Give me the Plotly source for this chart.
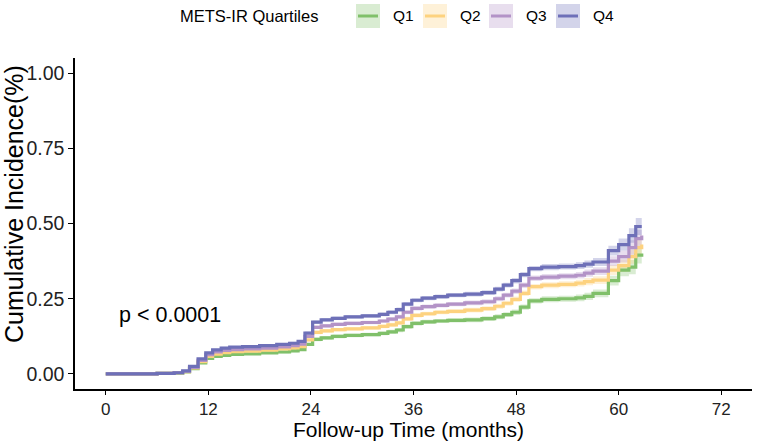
import plotly.graph_objects as go

# ---- data ----
months = [0, 6, 8, 9, 9.8, 10.8, 11.7, 12.5, 13.5, 14.5, 16, 18, 20, 21.5, 22.5, 23.3, 24.2, 25.2,
          26.5, 28, 30, 32, 33, 34, 34.8, 35.8, 37, 38.5, 40, 42, 44, 45.5, 46.5, 47.5, 48.5, 49.5,
          51, 53, 55, 56, 57, 58.8, 60, 61.2, 62, 62.7]

q1 = [0, 0.002, 0.003, 0.007, 0.018, 0.037, 0.052, 0.058, 0.062, 0.065, 0.067, 0.07, 0.073, 0.077,
      0.081, 0.098, 0.115, 0.12, 0.125, 0.128, 0.131, 0.135, 0.14, 0.146, 0.157, 0.168, 0.173, 0.176,
      0.178, 0.18, 0.184, 0.19, 0.197, 0.205, 0.222, 0.243, 0.248, 0.25, 0.253, 0.258, 0.268, 0.31,
      0.345, 0.355, 0.395, 0.40]
q2 = [0, 0.002, 0.004, 0.008, 0.02, 0.041, 0.058, 0.066, 0.071, 0.074, 0.076, 0.079, 0.083, 0.087,
      0.091, 0.113, 0.138, 0.143, 0.147, 0.15, 0.153, 0.158, 0.163, 0.17, 0.183, 0.195, 0.2, 0.205,
      0.208, 0.212, 0.217, 0.225, 0.235, 0.248, 0.268, 0.29, 0.295, 0.298, 0.302, 0.307, 0.312, 0.345,
      0.36, 0.39, 0.42, 0.43]
q3 = [0, 0.002, 0.004, 0.009, 0.022, 0.045, 0.064, 0.073, 0.078, 0.081, 0.083, 0.086, 0.09, 0.094,
      0.099, 0.125, 0.155, 0.16, 0.165, 0.168, 0.171, 0.176, 0.182, 0.19, 0.205, 0.218, 0.224, 0.228,
      0.232, 0.236, 0.24, 0.25, 0.262, 0.275, 0.295, 0.318, 0.322, 0.325, 0.328, 0.335, 0.342, 0.375,
      0.39, 0.42, 0.45, 0.46]
q4 = [0, 0.002, 0.004, 0.01, 0.025, 0.05, 0.07, 0.08, 0.086, 0.089, 0.091, 0.094, 0.098, 0.102,
      0.108, 0.136, 0.172, 0.18, 0.185, 0.19, 0.193, 0.198, 0.205, 0.214, 0.232, 0.245, 0.252, 0.257,
      0.262, 0.265, 0.27, 0.282, 0.295, 0.31, 0.33, 0.35, 0.355, 0.357, 0.36, 0.365, 0.372, 0.41,
      0.43, 0.46, 0.49, 0.49]
# half-width of the 95% CI band (shared shape, grows with time)
ci_half = [0, 0, 0, 0.001, 0.002, 0.003, 0.003, 0.004, 0.004, 0.004, 0.004, 0.004, 0.005, 0.005,
           0.005, 0.005, 0.006, 0.006, 0.006, 0.006, 0.006, 0.006, 0.007, 0.007, 0.007, 0.007, 0.007,
           0.007, 0.007, 0.008, 0.008, 0.008, 0.008, 0.009, 0.009, 0.009, 0.01, 0.01, 0.011, 0.012,
           0.013, 0.016, 0.02, 0.024, 0.028, 0.03]

groups = ["Q1", "Q2", "Q3", "Q4"]
series = [q1, q2, q3, q4]
colors = ["#80C06A", "#FDD27F", "#B393C7", "#6E70B8"]
fills = ["rgba(128,192,106,0.3)", "rgba(253,210,127,0.3)", "rgba(179,147,199,0.3)", "rgba(110,112,184,0.3)"]
legend_title = "METS-IR Quartiles"
x_ticks = [0, 12, 24, 36, 48, 60, 72]
y_ticks = [0, 0.25, 0.5, 0.75, 1.0]
y_ticklabels = ["0.00", "0.25", "0.50", "0.75", "1.00"]
x_title = "Follow-up Time (months)"
y_title = "Cumulative Incidence(%)"
p_text = "p < 0.0001"

FONT = "Liberation Sans, Arial, sans-serif"

fig = go.Figure()
for name, vals, col, fc in zip(groups, series, colors, fills):
    lo = [max(v - h, 0) for v, h in zip(vals, ci_half)]
    hi = [v + h for v, h in zip(vals, ci_half)]
    fig.add_trace(go.Scatter(x=months, y=lo, mode="lines", line=dict(width=0, shape="hv"),
                             showlegend=False, hoverinfo="skip"))
    fig.add_trace(go.Scatter(x=months, y=hi, mode="lines", line=dict(width=0, shape="hv"),
                             fill="tonexty", fillcolor=fc, showlegend=False, hoverinfo="skip"))
for name, vals, col in zip(groups, series, colors):
    fig.add_trace(go.Scatter(x=months, y=vals, mode="lines", name=name,
                             line=dict(color=col, width=3.2, shape="hv"), showlegend=False))

# plot area in pixels: x 75..752, y 58..389
L, R, T, B = 75, 752, 58, 389
W, H = R - L, B - T

def px(xp):
    return (xp - L) / W

def py(yp):
    return (B - yp) / H

annotations = [
    dict(x=1.3, y=0.196, xref="x", yref="y", text=p_text, showarrow=False, xanchor="left",
         yanchor="middle", font=dict(size=21.5, color="black", family=FONT)),
    dict(x=px(320), y=py(16), xref="paper", yref="paper", text=legend_title, showarrow=False,
         xanchor="right", yanchor="middle", font=dict(size=16.5, color="black", family=FONT)),
    dict(x=px(408), y=py(429), xref="paper", yref="paper", text=x_title, showarrow=False,
         xanchor="center", yanchor="middle", font=dict(size=21, color="black", family=FONT)),
    dict(x=px(14), y=py(204), xref="paper", yref="paper", text=y_title, showarrow=False,
         xanchor="center", yanchor="middle", textangle=-90,
         font=dict(size=25, color="black", family=FONT)),
]
shapes = []
box_left = [356, 423, 489, 556]
for name, col, fc, bl in zip(groups, colors, fills, box_left):
    shapes.append(dict(type="rect", xref="paper", yref="paper", x0=px(bl), x1=px(bl + 24),
                       y0=py(28), y1=py(4), fillcolor=fc, line=dict(width=0), layer="above"))
    shapes.append(dict(type="line", xref="paper", yref="paper", x0=px(bl + 2), x1=px(bl + 22),
                       y0=py(16), y1=py(16), line=dict(color=col, width=3), layer="above"))
    annotations.append(dict(x=px(bl + 35), y=py(16), xref="paper", yref="paper", text=name,
                            showarrow=False, xanchor="left", yanchor="middle",
                            font=dict(size=15.5, color="black", family=FONT)))

fig.update_layout(
    width=757, height=444,
    margin=dict(l=L, r=757 - R, t=T, b=444 - B),
    paper_bgcolor="white", plot_bgcolor="white",
    font=dict(family=FONT, color="black"),
    annotations=annotations, shapes=shapes,
    xaxis=dict(range=[-3.6, 75.6], tickvals=x_ticks, ticks="outside", ticklen=4, tickwidth=1.2,
               tickcolor="black", showline=True, linecolor="black", linewidth=1.5, showgrid=False,
               zeroline=False, tickfont=dict(size=17, color="#222222"), ticklabelstandoff=0),
    yaxis=dict(range=[-0.05, 1.05], tickvals=y_ticks, ticktext=y_ticklabels, ticks="outside",
               ticklen=5, tickwidth=1.2, tickcolor="black", showline=True, linecolor="black",
               linewidth=1.5, showgrid=False, zeroline=False, tickfont=dict(size=19.5, color="#222222")),
)

fig.write_html("out.html")
